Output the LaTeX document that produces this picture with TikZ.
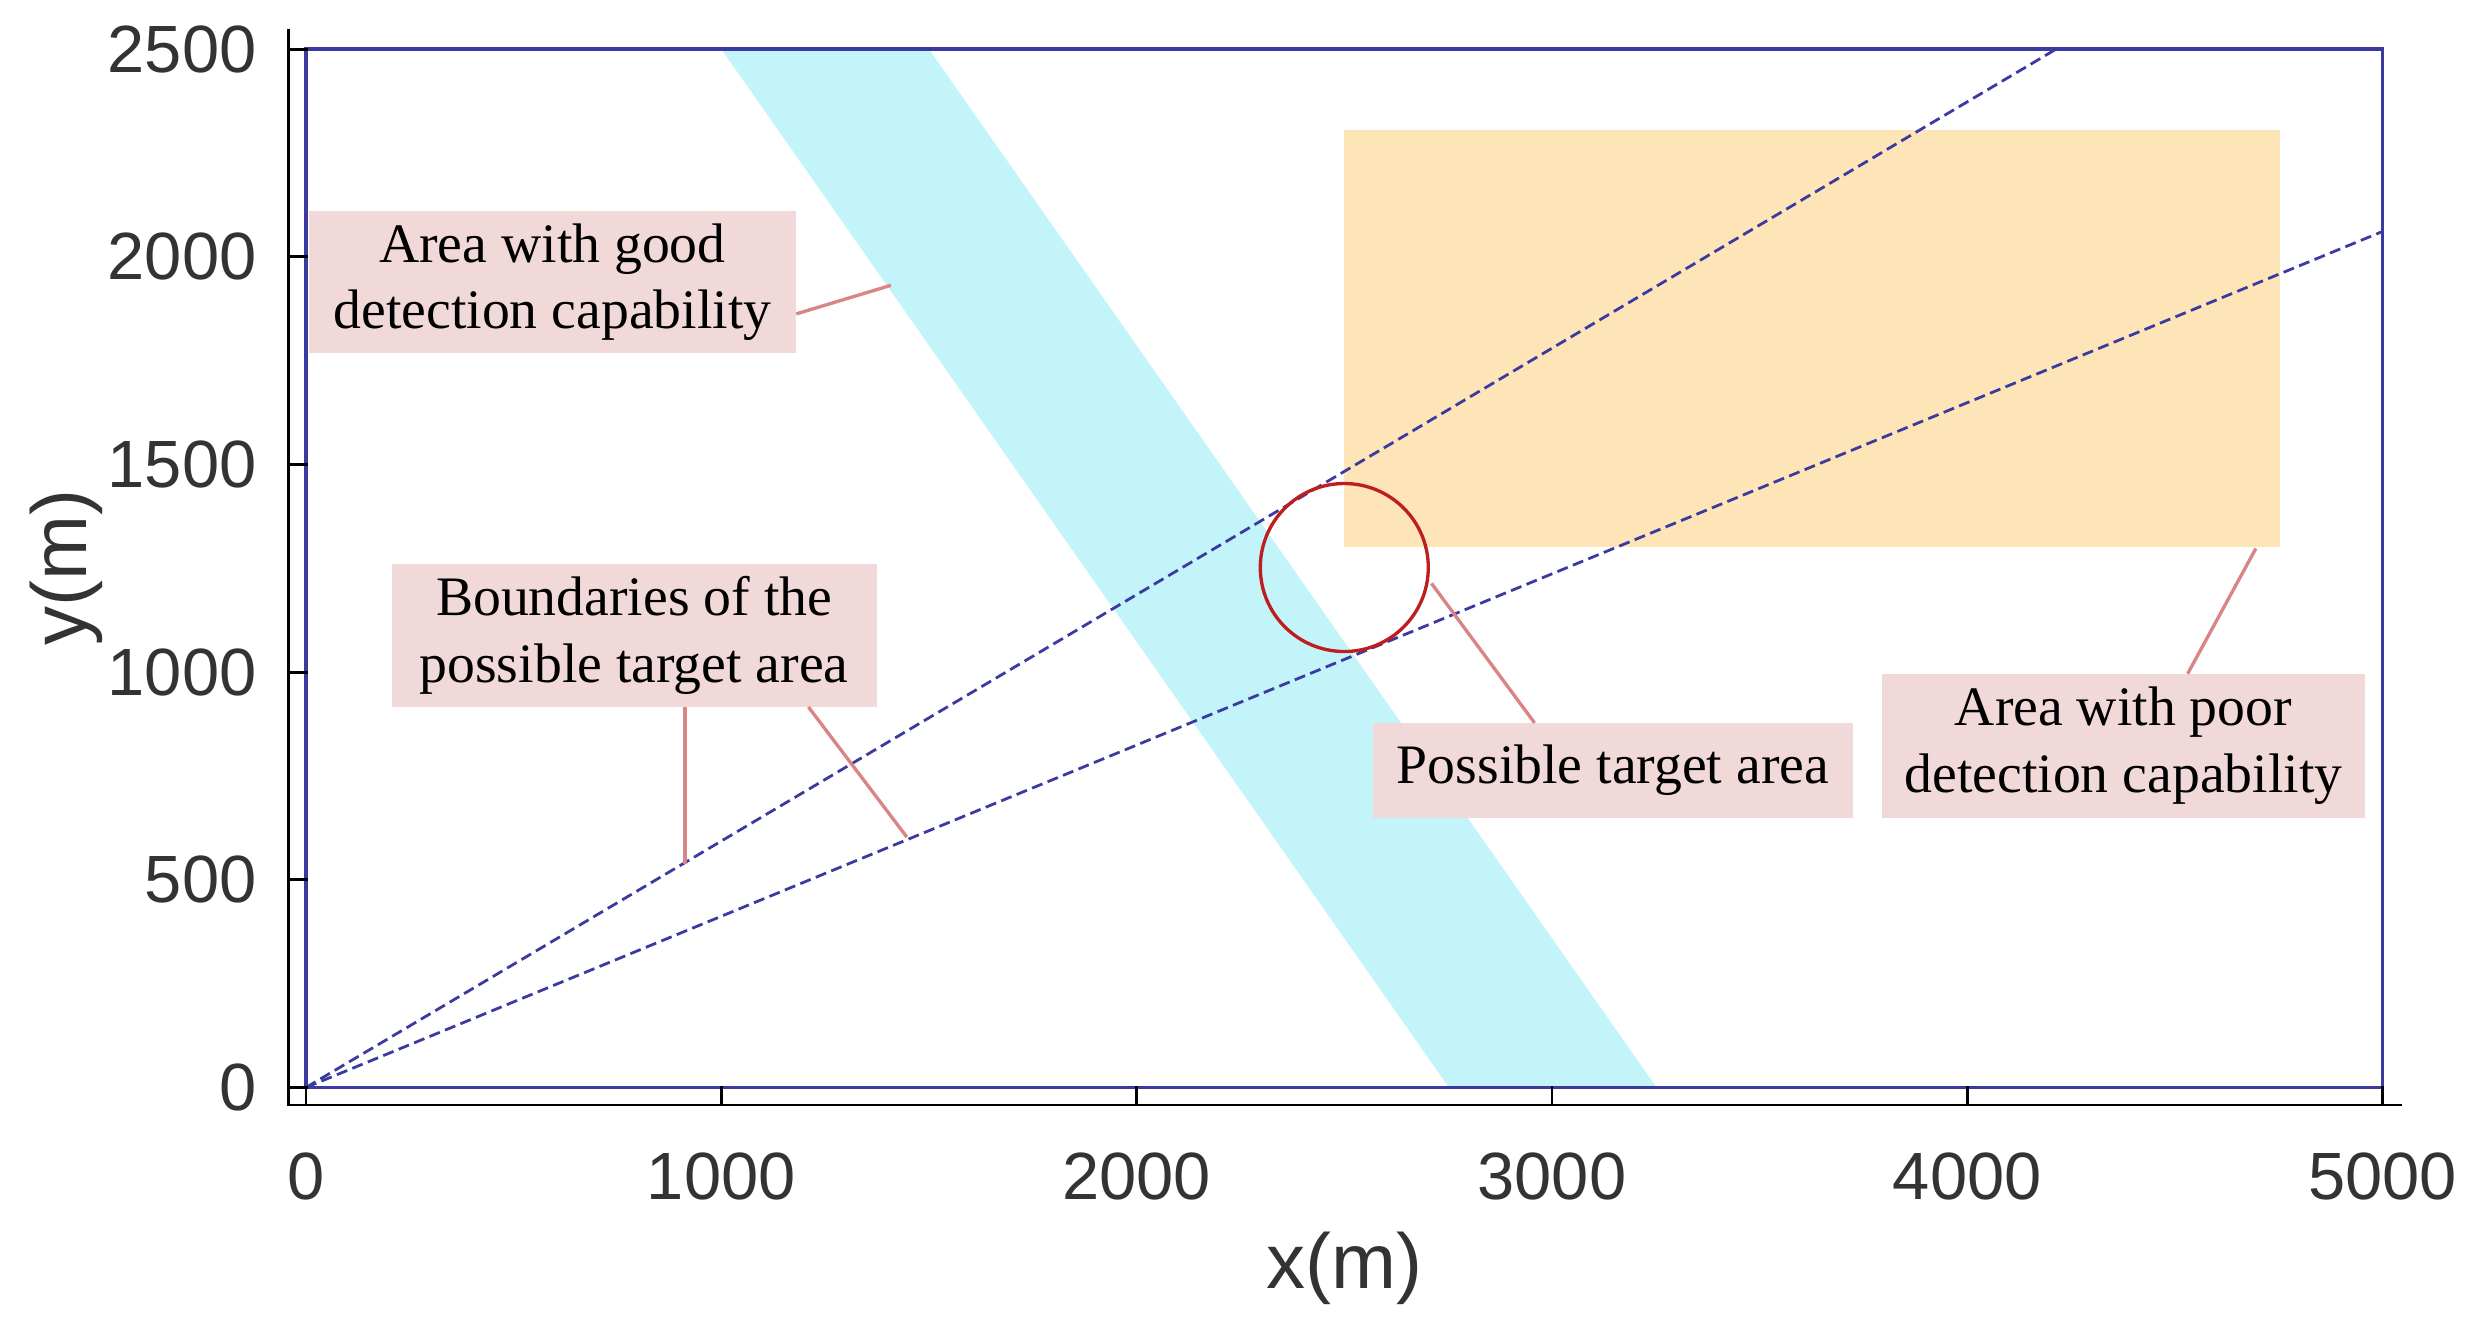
\documentclass[tikz,border=0pt]{standalone}
\usepackage{fontspec}
\setmainfont{Liberation Serif}
\newfontfamily\arialf{Liberation Sans}
\begin{document}
\begin{tikzpicture}[x=0.02cm,y=-0.02cm,
  lbl/.style={fill=pinkbg,align=center,font=\fontsize{20}{24}\selectfont,inner sep=0pt},
  con/.style={draw=conc,line width=1.2pt},
  tk/.style={font=\arialf\fontsize{24}{27}\selectfont,text=tkc},
  bnd/.style={draw=bluel,dashed,line width=1pt,dash pattern=on 4pt off 2pt}]
\definecolor{pinkbg}{HTML}{F2D9D9}
\definecolor{conc}{HTML}{D98585}
\definecolor{bluel}{HTML}{3A3AA0}
\definecolor{cyanb}{HTML}{C2F4FA}
\definecolor{orab}{HTML}{FDE5B8}
\definecolor{tkc}{HTML}{333333}
\useasboundingbox (0,0) rectangle (1560,831);
\fill[cyanb] (455,31) -- (586,31) -- (1045,686) -- (914,686) -- cycle;
\fill[orab] (848,82) rectangle (1438,345);
\draw[bluel,line width=1.2pt] (193,31) rectangle (1503,686);
\coordinate (o) at (193,686);
\coordinate (e1) at (1297,31);
\coordinate (e2) at (1503,146);
\draw[bnd] (o) -- (e1);
\draw[bnd] (o) -- (e2);
\node[draw={rgb,255:red,190;green,30;blue,30},line width=1.2pt,circle,minimum size=2.12cm,inner sep=0pt] (c) at (848,358) {};
\draw[line width=1pt] (182,18) -- (182,697) -- (1515,697);
\foreach \i/\t in {0/0,1/1000,2/2000,3/3000,4/4000,5/5000}{
  \draw[line width=1pt] (193+262*\i,697) -- (193+262*\i,685);
  \node[tk] at (193+262*\i,742) {\t};}
\foreach \i/\t in {0/0,1/500,2/1000,3/1500,4/2000,5/2500}{
  \draw[line width=1pt] (182,686-131*\i) -- (194,686-131*\i);
  \node[tk,anchor=east] at (168,686-131*\i) {\t};}
\node[tk,rotate=90,font=\arialf\fontsize{28}{30}\selectfont] (yl) at (42,358) {y(m)};
\node[tk,font=\arialf\fontsize{28}{30}\selectfont] (xl) at (848,800) {x(m)};
\node[lbl,minimum width=6.14cm,minimum height=1.8cm] (a1) at (348.5,178) {Area with good\\detection capability};
\node[lbl,minimum width=6.12cm,minimum height=1.8cm] (a2) at (400,401) {Boundaries of the\\possible target area};
\node[lbl,minimum width=6.06cm,minimum height=1.2cm] (a3) at (1017.5,486) {Possible target area};
\node[lbl,minimum width=6.1cm,minimum height=1.82cm] (a4) at (1339.5,470.5) {Area with poor\\detection capability};
\coordinate (p1) at (562,180);
\coordinate (p2) at (432,545);
\coordinate (p3) at (572,528);
\coordinate (p4) at (903,368);
\coordinate (p5) at (1423,346);
\draw[con] (a1.east|-0,198) -- (p1);
\draw[con] (432,446) -- (p2);
\draw[con] (510,446) -- (p3);
\draw[con] (968,456) -- (p4);
\draw[con] (1380,425) -- (p5);
\end{tikzpicture}
\end{document}
